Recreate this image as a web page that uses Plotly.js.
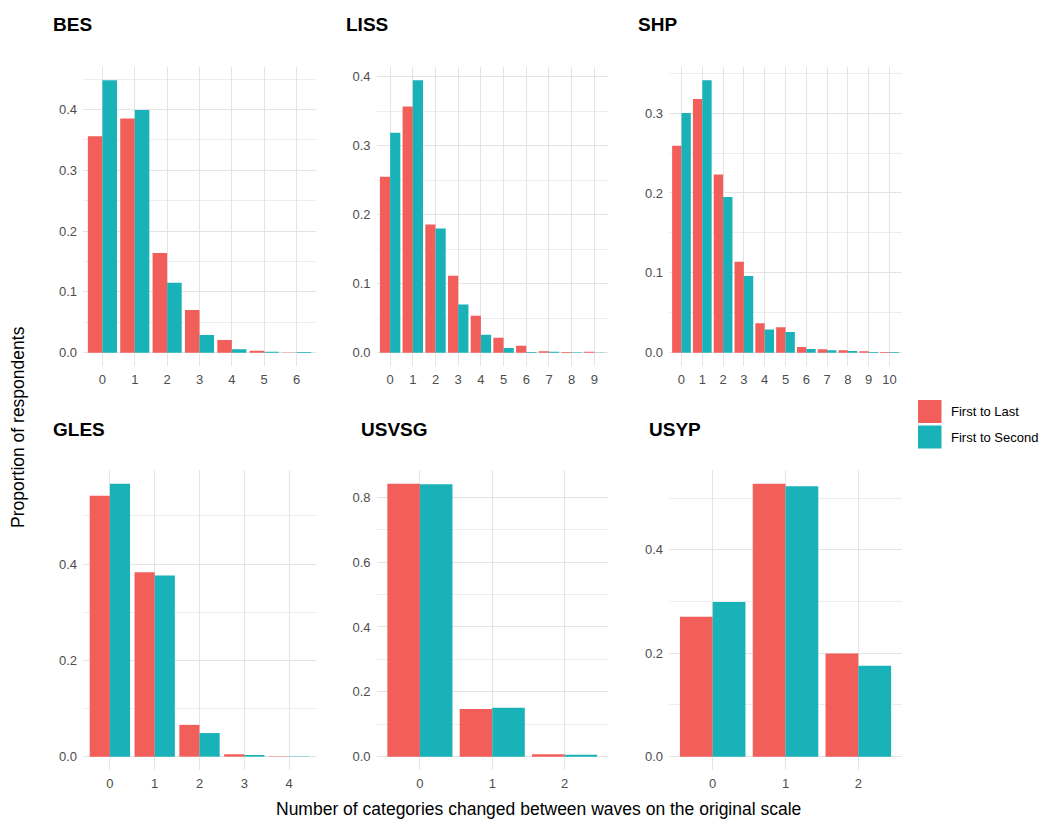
<!DOCTYPE html>
<html>
<head>
<meta charset="utf-8">
<script src="https://cdn.plot.ly/plotly-3.0.1.min.js"></script>
<style>html,body{margin:0;padding:0;background:#fff;}#chart{width:1039px;height:819px;}</style>
</head>
<body>
<div id="chart"></div>
<script>
// ---- Data (proportion of respondents by number of categories changed) ----
const panels = ["BES", "LISS", "SHP", "GLES", "USVSG", "USYP"];
const seriesNames = ["First to Last", "First to Second"];

const bes_x = [0, 1, 2, 3, 4, 5, 6];
const bes_firstLast   = [0.356, 0.385, 0.164, 0.070, 0.021, 0.003, 0.0005];
const bes_firstSecond = [0.448, 0.399, 0.115, 0.029, 0.0055, 0.0015, 0.001];

const liss_x = [0, 1, 2, 3, 4, 5, 6, 7, 8, 9];
const liss_firstLast   = [0.255, 0.357, 0.186, 0.1115, 0.0535, 0.0215, 0.010, 0.002, 0.001, 0.0015];
const liss_firstSecond = [0.319, 0.395, 0.180, 0.070, 0.026, 0.0068, 0.001, 0.0015, 0.0005, 0.0003];

const shp_x = [0, 1, 2, 3, 4, 5, 6, 7, 8, 9, 10];
const shp_firstLast   = [0.259, 0.3175, 0.223, 0.114, 0.0367, 0.0317, 0.0071, 0.0042, 0.003, 0.0017, 0.0008];
const shp_firstSecond = [0.300, 0.341, 0.195, 0.096, 0.029, 0.026, 0.0046, 0.003, 0.002, 0.0008, 0.001];

const gles_x = [0, 1, 2, 3, 4];
const gles_firstLast   = [0.542, 0.383, 0.066, 0.005, 0.0007];
const gles_firstSecond = [0.567, 0.376, 0.049, 0.0035, 0.0007];

const usvsg_x = [0, 1, 2];
const usvsg_firstLast   = [0.842, 0.1466, 0.0072];
const usvsg_firstSecond = [0.840, 0.1507, 0.0062];

const usyp_x = [0, 1, 2];
const usyp_firstLast   = [0.2706, 0.528, 0.1994];
const usyp_firstSecond = [0.299, 0.523, 0.176];

const yTickStep = [0.1, 0.1, 0.1, 0.2, 0.2, 0.2];

// ---- Styling ----
const W = 1039, H = 819;
const RED = "#F25E5A", TEAL = "#19B2B8";
const FONT = "Liberation Sans, Arial, sans-serif";
const GRID = "#E4E4E4";
const GRID_MINOR = "#EDEDED";

const panelData = [
  [bes_x, bes_firstLast, bes_firstSecond],
  [liss_x, liss_firstLast, liss_firstSecond],
  [shp_x, shp_firstLast, shp_firstSecond],
  [gles_x, gles_firstLast, gles_firstSecond],
  [usvsg_x, usvsg_firstLast, usvsg_firstSecond],
  [usyp_x, usyp_firstLast, usyp_firstSecond]
];

// panel plot-area pixel boxes
const colX = [[83, 316], [376.5, 608], [669, 902]];
const rowY = [[66.7, 366.3], [470, 770.3]];
const titlePos = [[51, 24], [343.5, 24], [635.5, 24], [51, 429], [359, 429], [646.5, 429]];

const traces = [];
const layout = {
  width: W, height: H,
  margin: {l: 0, r: 0, t: 0, b: 0},
  paper_bgcolor: "#fff", plot_bgcolor: "#fff",
  showlegend: false,
  barmode: "group", bargap: 0.1, bargroupgap: 0,
  font: {family: FONT, color: "#4D4D4D", size: 13},
  annotations: [], shapes: []
};

panels.forEach((name, i) => {
  const [xs, a, b] = panelData[i];
  const sfx = i === 0 ? "" : String(i + 1);
  const row = Math.floor(i / 3), col = i % 3;
  traces.push({type: "bar", x: xs, y: a, name: seriesNames[0], marker: {color: RED, line: {width: 0}},
    xaxis: "x" + sfx, yaxis: "y" + sfx, hoverinfo: "x+y+name"});
  traces.push({type: "bar", x: xs, y: b, name: seriesNames[1], marker: {color: TEAL, line: {width: 0}},
    xaxis: "x" + sfx, yaxis: "y" + sfx, hoverinfo: "x+y+name"});
  const ymax = Math.max(...a, ...b);
  const step = yTickStep[i];
  layout["xaxis" + sfx] = {
    domain: [colX[col][0] / W, colX[col][1] / W],
    anchor: "y" + sfx,
    range: [-0.6, xs.length - 1 + 0.6],
    tickmode: "array", tickvals: xs, ticktext: xs.map(String),
    showgrid: true, gridcolor: GRID, gridwidth: 1,
    zeroline: false, showline: false, ticks: "",
    ticklabelstandoff: 4,
    tickfont: {family: FONT, size: 13, color: "#4D4D4D"},
    fixedrange: true
  };
  layout["yaxis" + sfx] = {
    domain: [1 - rowY[row][1] / H, 1 - rowY[row][0] / H],
    anchor: "x" + sfx,
    range: [-0.05 * ymax, 1.05 * ymax],
    tick0: 0, dtick: step, tickformat: ".1f",
    showgrid: true, gridcolor: GRID, gridwidth: 1,
    minor: {dtick: step / 2, tick0: 0, showgrid: true, gridcolor: GRID_MINOR, gridwidth: 1},
    zeroline: false, showline: false, ticks: "",
    ticklabelstandoff: 5,
    tickfont: {family: FONT, size: 13, color: "#4D4D4D"},
    fixedrange: true
  };
  layout.annotations.push({
    text: "<b>" + name + "</b>", xref: "paper", yref: "paper",
    x: titlePos[i][0] / W, y: 1 - titlePos[i][1] / H,
    xanchor: "left", yanchor: "middle", showarrow: false,
    font: {family: FONT, size: 19, color: "#000"}
  });
});

// axis titles
layout.annotations.push({
  text: "Number of categories changed between waves on the original scale",
  xref: "paper", yref: "paper", x: 538 / W, y: 1 - 809 / H,
  xanchor: "center", yanchor: "middle", showarrow: false,
  font: {family: FONT, size: 17.5, color: "#000"}
});
layout.annotations.push({
  text: "Proportion of respondents",
  xref: "paper", yref: "paper", x: 18 / W, y: 1 - 427 / H,
  xanchor: "center", yanchor: "middle", showarrow: false, textangle: -90,
  font: {family: FONT, size: 17.5, color: "#000"}
});

// legend (manual, ggplot-style)
const legendKeys = [[RED, 400, 423], [TEAL, 425.5, 448.5]];
legendKeys.forEach(([c, y0, y1], k) => {
  layout.shapes.push({type: "rect", xref: "paper", yref: "paper",
    x0: 918 / W, x1: 941.5 / W, y0: 1 - y1 / H, y1: 1 - y0 / H,
    fillcolor: c, line: {width: 0}});
  layout.annotations.push({text: seriesNames[k], xref: "paper", yref: "paper",
    x: 949 / W, y: 1 - ((y0 + y1) / 2) / H, xanchor: "left", yanchor: "middle",
    showarrow: false, font: {family: FONT, size: 13, color: "#000"}});
});

Plotly.newPlot("chart", traces, layout, {displayModeBar: false, staticPlot: true});
</script>
</body>
</html>
